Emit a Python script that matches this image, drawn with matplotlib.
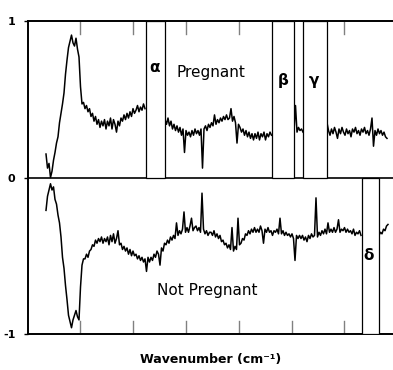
import numpy as np
import matplotlib
matplotlib.use("Agg")
import matplotlib.pyplot as plt

STEP = 1.5

preg_a_start = 18
preg_a = [15, 6, 9, 0, 4, 11, 16, 22, 26, 35, 41, 47, 54, 66, 75, 83, 87, 91, 86, 84,
          89, 82, 77, 58, 47, 48, 44, 46, 42, 44, 39, 41, 36, 39, 34, 37, 32, 36, 33, 37,
          31, 36, 33, 38, 31, 37, 34, 29, 36, 33, 38, 36, 40, 37, 41, 38, 42, 39, 44, 41,
          43, 46, 42, 45, 43, 47, 44]
preg_b_start = 137
preg_b = [37, 34, 38, 33, 36, 31, 34, 30, 33, 29, 32, 27, 31, 16, 30, 27, 29, 26, 30, 27,
          31, 28, 30, 27, 31, 6, 31, 33, 30, 34, 32, 35, 33, 40, 34, 37, 35, 38, 36, 39,
          37, 40, 37, 38, 44, 36, 39, 35, 22, 34, 32, 29, 31, 27, 30, 26, 29, 25, 28, 24,
          28, 25, 29, 24, 28, 26, 29, 24, 28, 26, 29, 27]
preg_c_start = 266
preg_c = [30, 46, 29, 32, 30, 31, 29]
preg_d_start = 299
preg_d = [35, 30, 27, 31, 28, 32, 29, 25, 31, 28, 32, 29, 27, 31, 28, 30, 26, 31, 29, 32,
          28, 30, 27, 31, 29, 32, 28, 30, 27, 31, 38, 20, 30, 27, 31, 28, 30, 27, 29, 26, 25]

notp_a_start = 18
notp_a = [-21, -12, -8, -4, -8, -6, -14, -17, -24, -29,
          -38, -51, -58, -69, -78, -88, -92, -96, -91, -88,
          -85, -89, -91, -70, -56, -52, -52, -49, -51, -47,
          -46, -43, -44, -40, -42, -39, -41, -38, -42, -39,
          -41, -38, -43, -37, -41, -36, -42, -39, -34, -43,
          -42, -46, -44, -47, -45, -49, -46, -50, -47, -50,
          -49, -52, -50, -53, -51, -54, -52, -60, -51, -54,
          -51, -53, -49, -51, -47, -49, -56, -45, -47, -42,
          -43, -40, -42, -38, -40, -37, -39, -29, -37, -34,
          -36, -33, -22, -35, -32, -35, -31, -26, -34, -32,
          -31, -34, -32, -35, -10, -33, -36, -34, -37, -35,
          -35, -37, -34, -38, -36, -39, -37, -41, -40, -43,
          -42, -45, -43, -46, -32, -47, -44, -46, -26, -43,
          -42, -39, -40, -36, -37, -34, -36, -33, -35, -32,
          -35, -33, -35, -31, -34, -42, -33, -35, -32, -35,
          -34, -37, -34, -35, -33, -36, -26, -36, -34, -37,
          -35, -37, -36, -38, -36, -39, -53, -37, -39, -37,
          -39, -37, -40, -38, -41, -37, -39, -36, -38, -37,
          -13, -38, -35, -37, -34, -36, -33, -36, -29, -35,
          -33, -35, -32, -35, -33, -27, -35, -33, -34, -32,
          -35, -33, -35, -34, -36, -33, -37, -35, -36, -34,
          -37]
notp_b_start = 351
notp_b = [-37, -35, -36, -33, -34, -31, -30]

# marked bands: (start, end, label)
bands_top = [(118, 137, "α"), (244, 266, "β"), (275, 299, "γ")]
bands_bottom = [(334, 351, "δ")]

tick_pos = [52, 105, 158, 211, 264, 316]

fig = plt.figure(figsize=(3.93, 3.70), dpi=100)
ax = fig.add_axes([28/393, 1 - 334/370, 365/393, (334 - 21)/370])

for start, vals in [(preg_a_start, preg_a), (preg_b_start, preg_b), (preg_c_start, preg_c),
                    (preg_d_start, preg_d), (notp_a_start, notp_a), (notp_b_start, notp_b)]:
    x = start + STEP*np.arange(len(vals))
    ax.plot(x, np.array(vals)/100, color='k', lw=1.1, zorder=2)

ax.axhline(0, color='k', lw=1.2, zorder=1)

for x0, x1, lab in bands_top:
    ax.axvspan(x0, x1, ymin=0.5, ymax=1, facecolor='white', edgecolor='k', lw=0.9, zorder=3)
for x0, x1, lab in bands_bottom:
    ax.axvspan(x0, x1, ymin=0, ymax=0.5, facecolor='white', edgecolor='k', lw=0.9, zorder=3)

ax.text(127, 0.70, "α", ha='center', va='center', fontsize=11, fontweight='bold', zorder=4)
ax.text(255, 0.62, "β", ha='center', va='center', fontsize=11, fontweight='bold', zorder=4)
ax.text(286, 0.62, "γ", ha='center', va='center', fontsize=11, fontweight='bold', zorder=4)
ax.text(341, -0.50, "δ", ha='center', va='center', fontsize=11, fontweight='bold', zorder=4)
ax.text(183, 0.67, "Pregnant", ha='center', va='center', fontsize=11)
ax.text(179, -0.72, "Not Pregnant", ha='center', va='center', fontsize=11)

# inward ticks on top and bottom edges
for t in tick_pos:
    ax.plot([t, t], [1, 0.92], color='gray', lw=1, zorder=2.5)
    ax.plot([t, t], [-1, -0.92], color='gray', lw=1, zorder=2.5)

ax.set_xlim(0, 365)
ax.set_ylim(-1, 1)
ax.set_xticks([])
ax.set_yticks([-1, 0, 1])
ax.set_yticklabels(["-1", "0", "1"], fontweight='bold', fontsize=8)
ax.tick_params(axis='y', length=3, width=1, pad=6)
ax.spines['right'].set_visible(False)
for s in ['left', 'top', 'bottom']:
    ax.spines[s].set_linewidth(1.4)
ax.set_xlabel("Wavenumber (cm\u207b\u00b9)", fontweight='bold', fontsize=9, labelpad=14)

fig.savefig('out.png', dpi=100)
